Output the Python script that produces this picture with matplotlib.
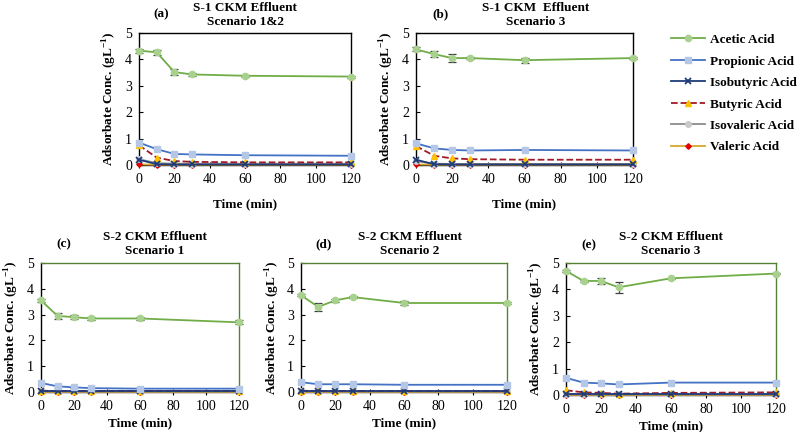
import matplotlib
matplotlib.use('Agg')
import matplotlib.pyplot as plt

plt.rcParams['font.family'] = ['Liberation Serif', 'DejaVu Serif']
plt.rcParams['mathtext.fontset'] = 'custom'
plt.rcParams['mathtext.rm'] = 'Liberation Serif'
plt.rcParams['mathtext.bf'] = 'Liberation Serif:bold'

# ── Data ─────────────────────────────────────────────────────────────────────
TIME = [0, 10, 20, 30, 60, 120]
ACIDS = ['Acetic Acid', 'Propionic Acid', 'Isobutyric Acid',
         'Butyric Acid', 'Isovaleric Acid', 'Valeric Acid']

# (a) S-1 CKM effluent, scenario 1&2
a_acetic     = [4.33, 4.27, 3.52, 3.43, 3.38, 3.35]
a_acetic_err = [0.08, 0.10, 0.10, 0.06, 0.04, 0.04]
a_propionic  = [0.85, 0.60, 0.42, 0.40, 0.37, 0.35]
a_isobutyric = [0.20, 0.03, 0.02, 0.02, 0.02, 0.02]
a_butyric    = [0.75, 0.28, 0.15, 0.12, 0.10, 0.10]
a_isovaleric = [0.22, 0.07, 0.05, 0.05, 0.05, 0.05]
a_valeric    = [0.02, 0.01, 0.01, 0.01, 0.01, 0.01]

# (b) S-1 CKM effluent, scenario 3
b_acetic     = [4.38, 4.20, 4.05, 4.05, 3.97, 4.05]
b_acetic_err = [0.08, 0.10, 0.15, 0.05, 0.10, 0.05]
b_propionic  = [0.82, 0.63, 0.57, 0.55, 0.57, 0.55]
b_isobutyric = [0.20, 0.03, 0.02, 0.02, 0.02, 0.02]
b_butyric    = [0.72, 0.35, 0.25, 0.22, 0.20, 0.20]
b_isovaleric = [0.15, 0.05, 0.04, 0.04, 0.04, 0.04]
b_valeric    = [0.02, 0.01, 0.01, 0.01, 0.01, 0.01]

# (c) S-2 CKM effluent, scenario 1
c_acetic     = [3.55, 2.95, 2.90, 2.85, 2.85, 2.70]
c_acetic_err = [0.05, 0.12, 0.08, 0.05, 0.05, 0.08]
c_propionic  = [0.35, 0.22, 0.18, 0.15, 0.13, 0.13]
c_isobutyric = [0.02, 0.02, 0.02, 0.02, 0.02, 0.02]
c_butyric    = [0.05, 0.04, 0.04, 0.04, 0.04, 0.04]
c_isovaleric = [0.03, 0.02, 0.02, 0.02, 0.02, 0.02]
c_valeric    = [0.01, 0.01, 0.01, 0.01, 0.01, 0.01]

# (d) S-2 CKM effluent, scenario 2
d_acetic     = [3.75, 3.30, 3.55, 3.68, 3.45, 3.45]
d_acetic_err = [0.03, 0.15, 0.05, 0.04, 0.08, 0.04]
d_propionic  = [0.38, 0.30, 0.30, 0.30, 0.28, 0.28]
d_isobutyric = [0.02, 0.02, 0.02, 0.02, 0.02, 0.02]
d_butyric    = [0.05, 0.04, 0.04, 0.04, 0.04, 0.04]
d_isovaleric = [0.03, 0.02, 0.02, 0.02, 0.02, 0.02]
d_valeric    = [0.01, 0.01, 0.01, 0.01, 0.01, 0.01]

# (e) S-2 CKM effluent, scenario 3
e_acetic     = [4.70, 4.32, 4.32, 4.08, 4.42, 4.60]
e_acetic_err = [0.03, 0.03, 0.12, 0.20, 0.03, 0.03]
e_propionic  = [0.65, 0.47, 0.44, 0.40, 0.47, 0.47]
e_isobutyric = [0.02, 0.02, 0.02, 0.02, 0.02, 0.02]
e_butyric    = [0.18, 0.10, 0.08, 0.05, 0.08, 0.10]
e_isovaleric = [0.03, 0.02, 0.02, 0.02, 0.02, 0.02]
e_valeric    = [0.01, 0.01, 0.01, 0.01, 0.01, 0.01]

# ── Styles ───────────────────────────────────────────────────────────────────
STYLES = [
    dict(color='#70AD47', marker='o', mfc='#A9D18E', mec='#A9D18E', ms=4.5, ls='-'),
    dict(color='#4472C4', marker='s', mfc='#B4C7E7', mec='#B4C7E7', ms=4.5, ls='-'),
    dict(color='#1F3B7A', marker='x', mfc='#1F3B7A', mec='#1F3B7A', ms=5, mew=1.3, ls='-'),
    dict(color='#A11A2A', marker='^', mfc='#FFC000', mec='#FFC000', ms=5, ls='--'),
    dict(color='#8C8C8C', marker='o', mfc='#C9C9C9', mec='#C9C9C9', ms=4, ls='-'),
    dict(color='#D9A52B', marker='D', mfc='#E00000', mec='#E00000', ms=2.8, ls='-'),
]

W, H = 800, 432

def px_rect(l, r, t, b):
    return [l / W, 1 - b / H, (r - l) / W, (b - t) / H]

# panel: (series, err, rect, letter, letter pos, title, title pos, green frame)
panels = [
    ([a_acetic, a_propionic, a_isobutyric, a_butyric, a_isovaleric, a_valeric],
     a_acetic_err, (139, 351, 33, 165), '(a)', (161, 14),
     'S-1 CKM Effluent\nScenario 1&2', (245, 15), False),
    ([b_acetic, b_propionic, b_isobutyric, b_butyric, b_isovaleric, b_valeric],
     b_acetic_err, (416, 633, 33, 165), '(b)', (440, 14),
     'S-1 CKM  Effluent\nScenario 3', (536, 15), False),
    ([c_acetic, c_propionic, c_isobutyric, c_butyric, c_isovaleric, c_valeric],
     c_acetic_err, (41, 239, 263, 392), '(c)', (64, 244),
     'S-2 CKM Effluent\nScenario 1', (155, 244), True),
    ([d_acetic, d_propionic, d_isobutyric, d_butyric, d_isovaleric, d_valeric],
     d_acetic_err, (301, 507, 263, 392), '(d)', (324, 244),
     'S-2 CKM Effluent\nScenario 2', (410, 244), True),
    ([e_acetic, e_propionic, e_isobutyric, e_butyric, e_isovaleric, e_valeric],
     e_acetic_err, (566, 776, 263, 395), '(e)', (589, 245),
     'S-2 CKM Effluent\nScenario 3', (671, 244), True),
]

fig = plt.figure(figsize=(8, 4.32), dpi=100)

handles = []
for series, err, rect, letter, lpos, title, tpos, green in panels:
    ax = fig.add_axes(px_rect(*rect))
    hs = []
    for i, (vals, st) in enumerate(zip(series, STYLES)):
        st = dict(st)
        ls = st.pop('ls')
        h, = ax.plot(TIME, vals, linestyle=ls, lw=1.3, clip_on=False,
                     zorder=3 + (5 - i) * 0.1 if i > 1 else 3.5, **st)
        hs.append(h)
        if i == 0:
            ax.errorbar(TIME, vals, yerr=err, fmt='none', ecolor='#404040',
                        elinewidth=0.9, capsize=3, capthick=0.9, zorder=2.5,
                        clip_on=False)
    handles = hs
    ax.set_xlim(0, 120)
    ax.set_ylim(0, 5)
    ax.set_xticks(range(0, 121, 20))
    ax.set_yticks(range(0, 6))
    ax.tick_params(axis='x', direction='inout', length=5, width=0.8,
                   labelsize=10, pad=3)
    ax.tick_params(axis='y', direction='in', length=3, width=0.8,
                   labelsize=10, pad=5)
    for side in ['left', 'bottom', 'top', 'right']:
        ax.spines[side].set_linewidth(1.0)
        ax.spines[side].set_color('black')
    if green:
        ax.spines['top'].set_color('#548235')
        ax.spines['right'].set_color('#548235')
    ax.set_ylabel('Adsorbate Conc. (gL$^{\\mathbf{-1}}$)', fontsize=9.5,
                  fontweight='bold', labelpad=4)
    ax.set_xlabel('Time (min)', fontsize=9.5, fontweight='bold',
                  labelpad=9 if not green else 3)
    fig.text(lpos[0] / W, 1 - lpos[1] / H, letter, fontsize=9.5,
             fontweight='bold', ha='center', va='center')
    fig.text(tpos[0] / W, 1 - tpos[1] / H, title, fontsize=9.5,
             fontweight='bold', ha='center', va='center', linespacing=1.15)

fig.legend(handles, ACIDS, loc='upper left', bbox_to_anchor=(659 / W, 1 - 22 / H),
           frameon=False, handlelength=2.6, handletextpad=0.4, labelspacing=0.7,
           prop={'family': 'Liberation Serif', 'weight': 'bold', 'size': 9.5})

fig.savefig('out.png', dpi=100)
